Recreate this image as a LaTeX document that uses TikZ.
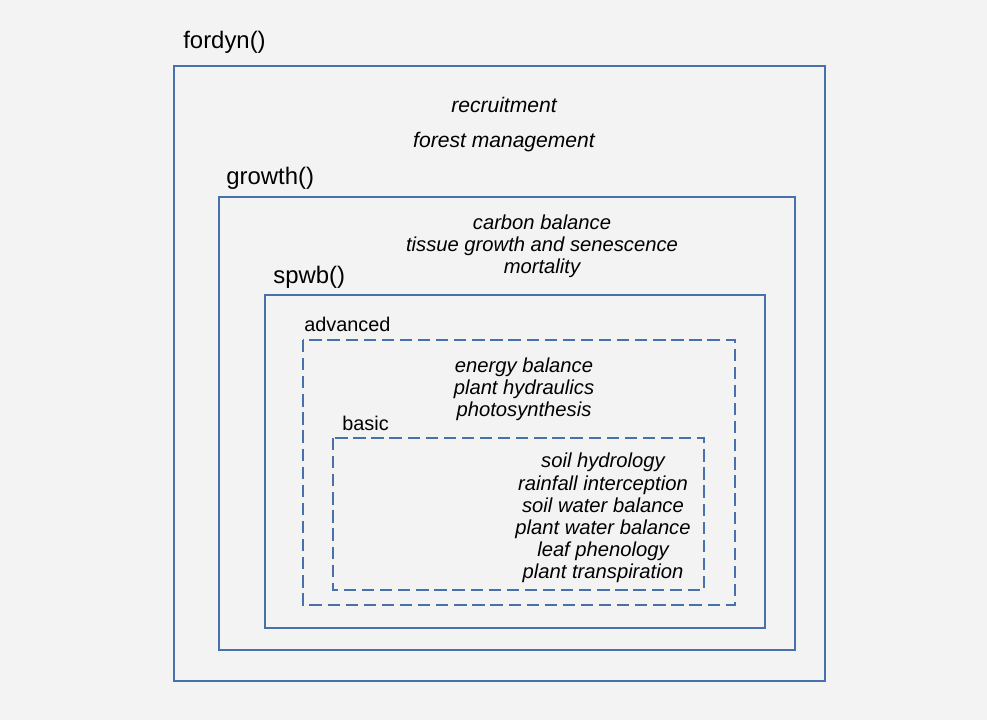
\documentclass[tikz,border=0pt]{standalone}
\usepackage{fontspec}
\setmainfont{Liberation Sans}
\definecolor{boxblue}{RGB}{72,112,172}
\definecolor{bggray}{RGB}{243,243,243}
\tikzset{
  frame/.style={draw=boxblue, line width=1.1pt},
  dframe/.style={draw=boxblue, line width=1.1pt, dash pattern=on 7pt off 3.3pt},
  fname/.style={anchor=west, inner sep=0pt, font=\fontsize{13.6}{15}\selectfont},
  lvl/.style={anchor=west, inner sep=0pt, font=\fontsize{11.3}{13}\selectfont},
  proc/.style={align=center, inner sep=0pt, font=\itshape\fontsize{11.5}{12.6}\selectfont},
  topproc/.style={proc, font=\itshape\fontsize{12}{13}\selectfont}
}
\begin{document}
\begin{tikzpicture}[x=0.02cm, y=-0.02cm]
\fill [bggray] (0,0) rectangle (987,720);
\useasboundingbox (0,0) rectangle (987,720);
% boxes
\draw [frame] (174,66) rectangle (825,681);
\draw [frame] (219,197) rectangle (795,650);
\draw [frame] (265,295) rectangle (765,628);
\draw [dframe] (303,340) rectangle (735,605);
\draw [dframe] (333,438) rectangle (704,590);
% labels
\node [fname] (fordyn) at (183,42) {fordyn()};
\node [fname] (growth) at (226,178) {growth()};
\node [fname] (spwb) at (273,277) {spwb()};
\node [lvl] (advanced) at (304,324) {advanced};
\node [lvl] (basic) at (342,423) {basic};
% processes
\node [topproc] (recr) at (504,105) {recruitment};
\node [topproc] (mgmt) at (504,142) {forest management};
\node [proc] (grproc) at (542,246) {carbon balance\\tissue growth and senescence\\mortality};
\node [proc] (advproc) at (524,389) {energy balance\\plant hydraulics\\photosynthesis};
\node [proc] (basproc) at (603,518) {soil hydrology\\rainfall interception\\soil water balance\\plant water balance\\leaf phenology\\plant transpiration};
\end{tikzpicture}
\end{document}
